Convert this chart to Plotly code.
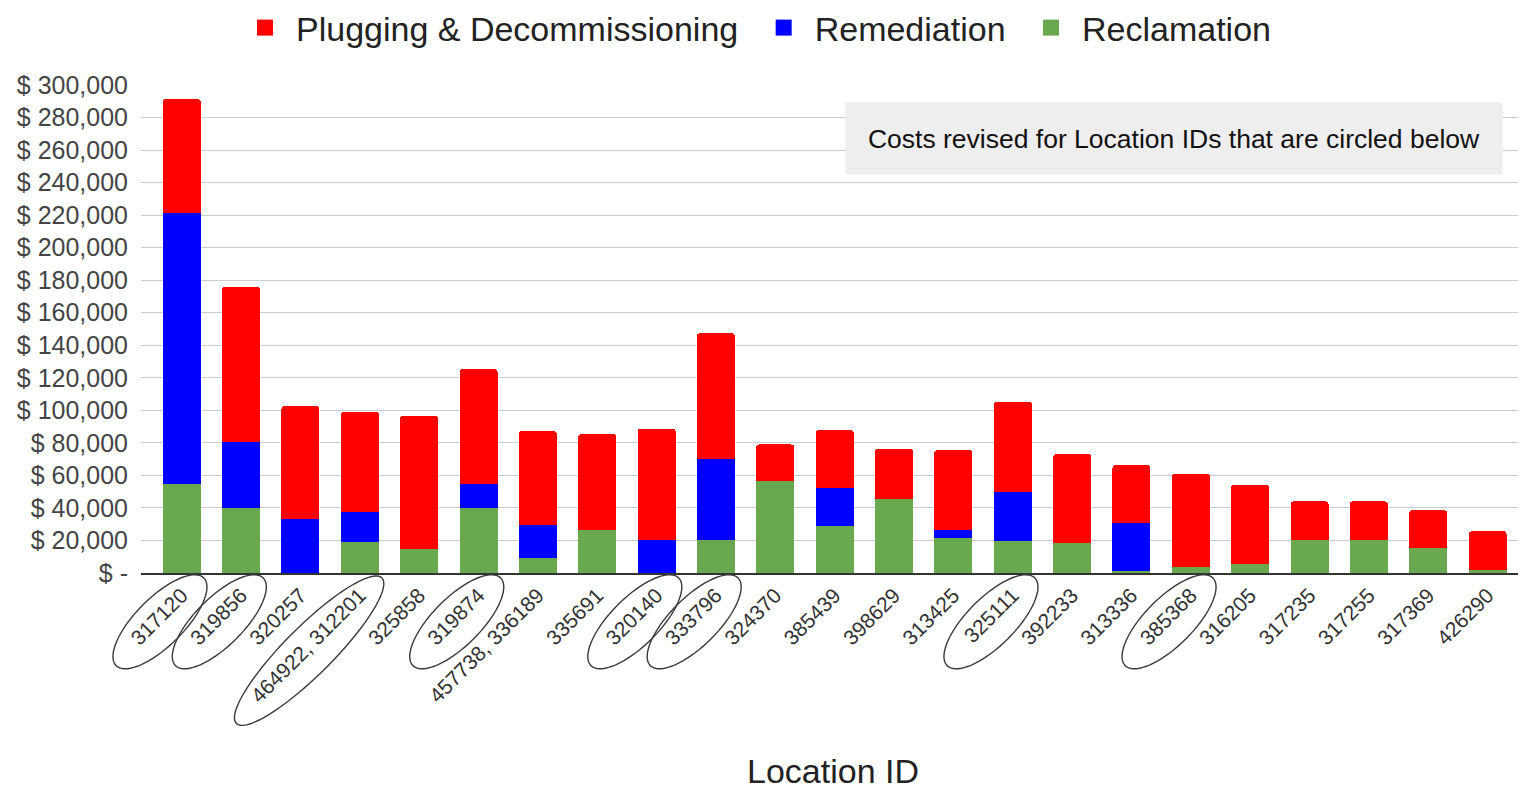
import math
import plotly.graph_objects as go

# ---------------- data ----------------
location_ids = ["317120", "319856", "320257", "464922, 312201", "325858", "319874",
                "457738, 336189", "335691", "320140", "333796", "324370", "385439",
                "398629", "313425", "325111", "392233", "313336", "385368", "316205",
                "317235", "317255", "317369", "426290"]
reclamation = [55000, 40000, 0, 19100, 14800, 40000, 9500, 26300, 0, 20100, 56600, 28700,
               45400, 21800, 19900, 18300, 1000, 3800, 5700, 20500, 20500, 15400, 2000]
remediation = [166500, 40600, 33000, 18100, 0, 15000, 20300, 0, 20100, 49900, 0, 23600,
               0, 4500, 29900, 0, 29700, 0, 0, 0, 0, 0, 0]
plugging = [69800, 95400, 69600, 61900, 81700, 70300, 57400, 59000, 68700, 77300, 22400,
            35500, 31100, 49200, 55400, 54700, 35700, 57200, 48600, 23500, 23500, 23100, 23600]
circled_ids = ["317120", "319856", "464922, 312201", "319874", "320140", "333796",
               "325111", "385368"]
y_tick_values = [0, 20000, 40000, 60000, 80000, 100000, 120000, 140000, 160000, 180000,
                 200000, 220000, 240000, 260000, 280000, 300000]
y_tick_labels = ["$ -", "$ 20,000", "$ 40,000", "$ 60,000", "$ 80,000", "$ 100,000",
                 "$ 120,000", "$ 140,000", "$ 160,000", "$ 180,000", "$ 200,000",
                 "$ 220,000", "$ 240,000", "$ 260,000", "$ 280,000", "$ 300,000"]
series_names = ["Plugging & Decommissioning", "Remediation", "Reclamation"]
series_colors = ["#ff0000", "#0000ff", "#6aa84f"]
note_text = "Costs revised for Location IDs that are circled below"

FONT = "Arial, Liberation Sans, sans-serif"
X_RANGE = [-0.686, 22.63]
XTICK_SIZE = 21
W, H = 1518, 782

x_idx = list(range(len(location_ids)))

fig = go.Figure()
fig.add_trace(go.Bar(x=x_idx, y=reclamation, name="Reclamation", showlegend=False,
                     marker=dict(color=series_colors[2], line=dict(width=0))))
fig.add_trace(go.Bar(x=x_idx, y=remediation, name="Remediation", showlegend=False,
                     marker=dict(color=series_colors[1], line=dict(width=0))))
fig.add_trace(go.Bar(x=x_idx, y=plugging, name="Plugging & Decommissioning", showlegend=False,
                     marker=dict(color=series_colors[0], line=dict(width=0))))

# legend entries (square swatches)
for k, (nm, col) in enumerate(zip(series_names, series_colors)):
    label = nm + ("\u00a0" if k < len(series_names) - 1 else "")
    fig.add_trace(go.Scatter(x=[None], y=[None], mode="markers", name=label,
                             marker=dict(symbol="square", size=16, color=col),
                             hoverinfo="skip"))

# ellipses around circled tick labels
def label_len(s):
    w = 0.0
    for ch in s:
        w += 0.556 if ch.isdigit() else 0.278
    return w * XTICK_SIZE

shapes = []
ang = math.radians(45)
for name in circled_ids:
    i = location_ids.index(name)
    L = label_len(name)
    ax_off, ay_off = 3.0, 24.0
    cx = ax_off - L / 2 * math.cos(ang)
    cy = ay_off + L / 2 * math.sin(ang)
    a = L / 2 + 27
    b = 24
    pts = []
    n = 72
    for k in range(n + 1):
        t = 2 * math.pi * k / n
        ex = a * math.cos(t)
        ey = b * math.sin(t)
        sx = cx + ex * math.cos(ang) - ey * math.sin(ang)
        sy = cy - ex * math.sin(ang) - ey * math.cos(ang)
        pts.append((sx, -sy))
    path = "M" + " L".join(f"{px:.2f},{py:.2f}" for px, py in pts) + " Z"
    xpaper = (i - X_RANGE[0]) / (X_RANGE[1] - X_RANGE[0])
    shapes.append(dict(type="path", xref="paper", yref="paper",
                       xsizemode="pixel", ysizemode="pixel",
                       xanchor=xpaper, yanchor=0, path=path,
                       line=dict(color="#3a3a3a", width=1.4),
                       fillcolor="rgba(0,0,0,0)", layer="above"))

fig.update_layout(
    width=W, height=H,
    margin=dict(l=133, r=1, t=77, b=217, autoexpand=False),
    paper_bgcolor="white", plot_bgcolor="white",
    barmode="stack", bargap=0.36, barcornerradius=3,
    font=dict(family=FONT, color="#222222"),
    showlegend=True,
    legend=dict(orientation="h", itemwidth=52, traceorder="normal",
                xref="container", yref="container", x=747 / W, xanchor="center",
                y=1 - 20 / H, yanchor="middle", font=dict(size=34, color="#222222"),
                itemclick=False, itemdoubleclick=False),
    xaxis=dict(range=X_RANGE, tickmode="array", tickvals=x_idx, ticktext=location_ids,
               tickangle=-45, tickfont=dict(size=XTICK_SIZE, color="#333333"),
               showgrid=False, zeroline=False, showline=True, linecolor="#333333",
               linewidth=1.5, ticks="", fixedrange=True,
               title=dict(text="Location ID", font=dict(size=34, color="#222222"),
                          standoff=60)),
    yaxis=dict(range=[0, 300000], tickmode="array", tickvals=y_tick_values,
               ticktext=y_tick_labels, tickfont=dict(size=25, color="#444444"),
               showgrid=True, gridcolor="#cccccc", gridwidth=1, zeroline=False,
               ticks="", ticklabelstandoff=12, fixedrange=True),
    shapes=shapes,
    annotations=[dict(text=note_text, xref="paper", yref="paper",
                      x=(1166 - 133) / 1384, y=1 - 53 / 488,
                      xanchor="center", yanchor="middle", showarrow=False,
                      width=656, height=71, bgcolor="#eeeeee", borderpad=0,
                      font=dict(size=26.5, color="#111111"))],
)

fig.write_html("out.html")
